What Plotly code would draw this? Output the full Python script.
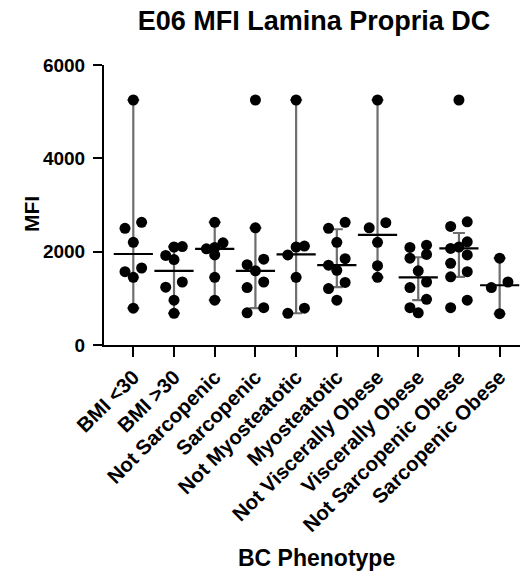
import plotly.graph_objects as go

categories = ["BMI <30", "BMI >30", "Not Sarcopenic", "Sarcopenic", "Not Myosteatotic",
              "Myosteatotic", "Not Viscerally Obese", "Viscerally Obese",
              "Not Sarcopenic Obese", "Sarcopenic Obese"]

bmi_lt30 = [5250, 2630, 2500, 2200, 1650, 1570, 1450, 790]
bmi_gt30 = [2110, 2100, 1920, 1830, 1350, 1240, 960, 680]
not_sarcopenic = [2630, 2190, 2090, 2060, 1930, 1450, 960]
sarcopenic = [5250, 2510, 1840, 1720, 1590, 1350, 1230, 800, 690]
not_myosteatotic = [5250, 2120, 2100, 1930, 1450, 790, 680]
myosteatotic = [2630, 2500, 2200, 1850, 1710, 1600, 1340, 1210, 960]
not_visc_obese = [5250, 2620, 2510, 2200, 1700, 1450]
visc_obese = [2140, 2090, 1940, 1860, 1590, 1350, 1230, 980, 800, 690]
not_sarc_obese = [5250, 2640, 2540, 2210, 2100, 2070, 1930, 1750, 1570, 1460, 960, 800]
sarc_obese = [1860, 1350, 1230, 670]

groups = [bmi_lt30, bmi_gt30, not_sarcopenic, sarcopenic, not_myosteatotic,
          myosteatotic, not_visc_obese, visc_obese, not_sarc_obese, sarc_obese]

medians = [1950, 1590, 2060, 1590, 1940, 1710, 2360, 1450, 2070, 1280]
bar_low = [790, 680, 960, 790, 680, 1240, 1450, 960, 1460, 670]
bar_high = [5250, 2110, 2630, 2510, 5250, 2480, 5250, 1880, 2400, 1860]

tick_vals_y = [0, 2000, 4000, 6000]

# geometry (pixels) used for a simple symmetric scatter-spread
W, H = 525, 575
ML, MR, MT, MB = 104, 5, 65, 230
XR = [-0.72, 9.5]
YR = [0, 6000]
px_per_x = (W - ML - MR) / (XR[1] - XR[0])
units_per_px_y = (YR[1] - YR[0]) / (H - MT - MB)
step = 8.3 / px_per_x
clus_h = 9.0 * units_per_px_y

xs, ys = [], []
for gi, vals in enumerate(groups):
    sv = sorted(vals, reverse=True)
    clusters = []
    for v in sv:
        if clusters and clusters[-1][0] - v < clus_h:
            clusters[-1].append(v)
        else:
            clusters.append([v])
    for c in clusters:
        n = len(c)
        if n == 1:
            offs = [0]
        elif n == 2:
            offs = [1, -1]
        else:
            offs = [(n - 1) / 2 - k for k in range(n)]
        for v, o in zip(c, offs):
            xs.append(gi + o * step)
            ys.append(v)

fig = go.Figure()

fig.add_trace(go.Scatter(
    x=list(range(len(categories))), y=medians, mode="markers",
    marker=dict(size=1, color="rgba(0,0,0,0)"),
    error_y=dict(type="data", symmetric=False,
                 array=[h - m for h, m in zip(bar_high, medians)],
                 arrayminus=[m - l for m, l in zip(medians, bar_low)],
                 color="#6e6e6e", thickness=2.2, width=6),
    hoverinfo="skip", showlegend=False, cliponaxis=False))

fig.add_trace(go.Scatter(
    x=xs, y=ys, mode="markers",
    marker=dict(size=11, color="black"),
    showlegend=False, cliponaxis=False))

fig.add_trace(go.Scatter(
    x=list(range(len(categories))), y=medians, mode="markers",
    marker=dict(symbol="line-ew", size=28, line=dict(width=2.2, color="black")),
    showlegend=False, cliponaxis=False))

font_fam = "Arial, Liberation Sans, sans-serif"

fig.update_layout(
    width=W, height=H,
    margin=dict(l=ML, r=MR, t=MT, b=MB),
    plot_bgcolor="white", paper_bgcolor="white",
    title=dict(text="E06 MFI Lamina Propria DC", x=314 / W, xanchor="center", xref="container",
               y=1 - 21 / H, yanchor="middle", yref="container",
               font=dict(family=font_fam, size=27, color="black", weight="bold")),
    xaxis=dict(range=XR, tickvals=list(range(len(categories))), ticktext=categories,
               tickangle=-45, showline=True, linecolor="black", linewidth=2,
               ticks="outside", ticklen=10, tickwidth=2, tickcolor="black",
               ticklabelstandoff=0,
               showgrid=False, zeroline=False,
               tickfont=dict(family=font_fam, size=20.5, color="black", weight="bold")),
    yaxis=dict(range=YR, tickvals=tick_vals_y, showline=True, linecolor="black", linewidth=2,
               ticks="outside", ticklen=9, tickwidth=2, tickcolor="black",
               ticklabelstandoff=4,
               showgrid=False, zeroline=False,
               tickfont=dict(family=font_fam, size=19, color="black", weight="bold")),
    annotations=[
        dict(text="MFI", xref="paper", yref="paper", x=(31 - ML) / (W - ML - MR),
             y=(H - MB - 214) / (H - MT - MB), textangle=-90, showarrow=False,
             xanchor="center", yanchor="middle",
             font=dict(family=font_fam, size=21, color="black", weight="bold")),
        dict(text="BC Phenotype", xref="paper", yref="paper", x=(316 - ML) / (W - ML - MR),
             y=(H - MB - 558) / (H - MT - MB), showarrow=False,
             xanchor="center", yanchor="middle",
             font=dict(family=font_fam, size=23, color="black", weight="bold")),
        dict(text="*", xref="x", yref="y", x=6.6, y=6160, showarrow=False,
             xanchor="center", yanchor="middle",
             font=dict(family=font_fam, size=15, color="#555555")),
    ],
)

fig.write_html("out.html")
